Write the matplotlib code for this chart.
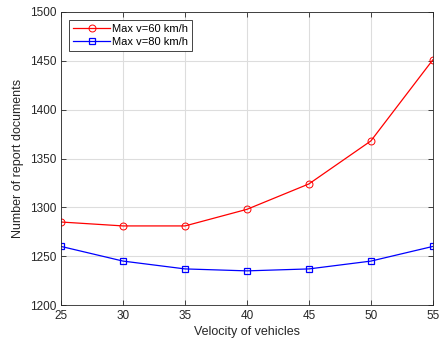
import matplotlib.pyplot as plt
import numpy as np

plt.rcParams['font.family'] = ['Liberation Sans', 'DejaVu Sans']

velocity = [25, 30, 35, 40, 45, 50, 55]
docs_v60 = [1285, 1281, 1281, 1298, 1324, 1368, 1451]
docs_v80 = [1260, 1245, 1237, 1235, 1237, 1245, 1260]

fig = plt.figure(figsize=(4.43, 3.42), dpi=100)
ax = fig.add_axes([0.138, 0.108, 0.839, 0.857])

ax.plot(velocity, docs_v60, color='red', marker='o', markersize=5,
        markerfacecolor='none', markeredgewidth=0.7, linewidth=0.9,
        label='Max v=60 km/h')
ax.plot(velocity, docs_v80, color='blue', marker='s', markersize=4,
        markerfacecolor='none', markeredgewidth=0.9, linewidth=0.9,
        label='Max v=80 km/h')

ax.set_xlim(25, 55)
ax.set_ylim(1200, 1500)
ax.set_xticks(np.arange(25, 56, 5))
ax.set_yticks(np.arange(1200, 1501, 50))
ax.grid(True, color='#dddddd', linewidth=0.8)
ax.set_axisbelow(True)
ax.tick_params(direction='in', top=True, right=True, labelsize=8.5,
               length=3.5, width=0.6, colors='#262626')
for s in ax.spines.values():
    s.set_linewidth(0.6)
    s.set_color('#262626')

ax.set_xlabel('Velocity of vehicles', fontsize=9, color='#262626', labelpad=3)
ax.set_ylabel('Number of report documents', fontsize=9, color='#262626')

leg = ax.legend(loc='upper left', fontsize=8, fancybox=False,
                edgecolor='#262626', framealpha=1, borderpad=0.35,
                handlelength=3.3, labelspacing=0.25, handletextpad=0.2,
                borderaxespad=0.75)
leg.get_frame().set_linewidth(0.6)

fig.savefig('out.png', dpi=100)
